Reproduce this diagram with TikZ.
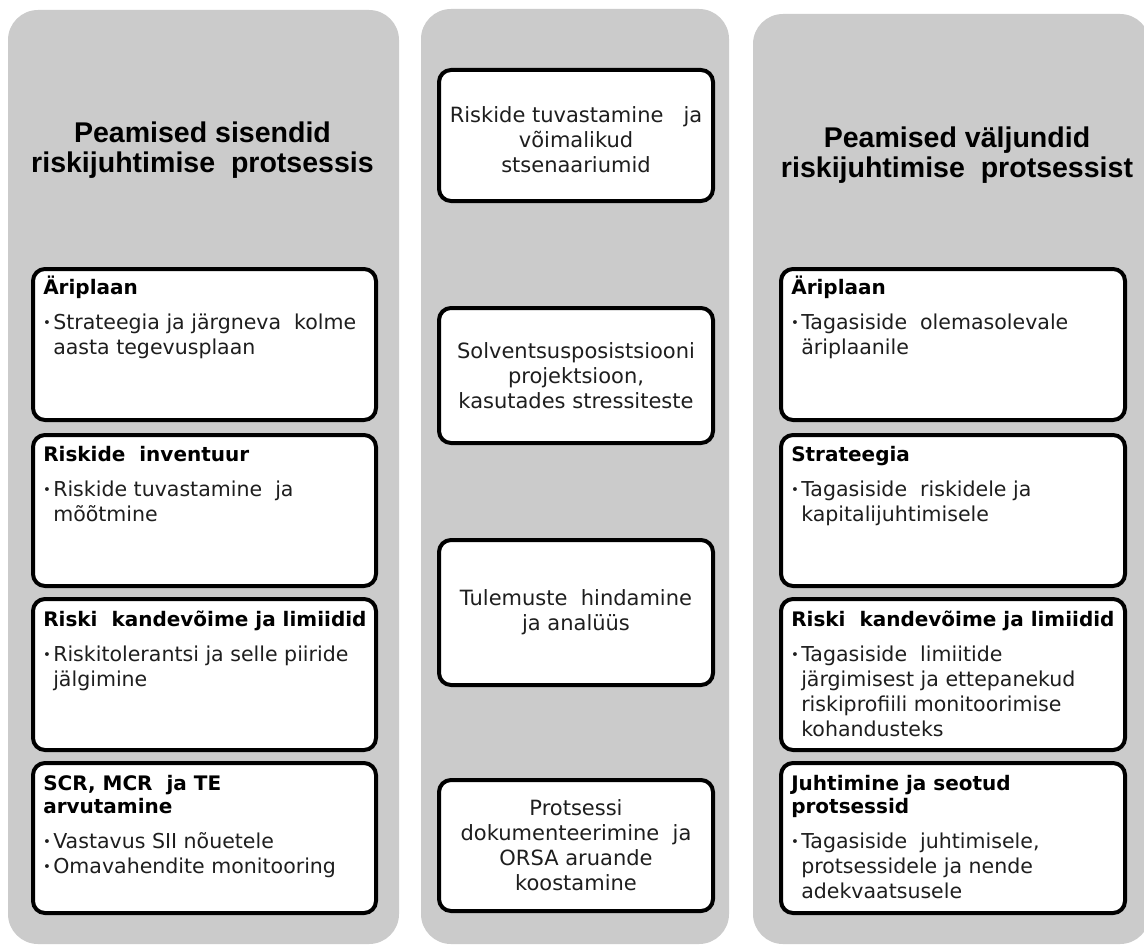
\documentclass[tikz,border=0pt]{standalone}
\usepackage{fontspec}
\setmainfont{DejaVu Sans}
\newfontfamily\titlefont{Liberation Sans}
\usetikzlibrary{fit,calc}
\definecolor{colgrey}{HTML}{CBCBCB}
\definecolor{txt}{HTML}{1E1E1E}
\newcommand\bul{\makebox[7.5pt][l]{\hspace{-0.2pt}\raisebox{1.2pt}{\fontsize{10}{10}\selectfont •}}}
\newcommand\ind{\hspace*{7.5pt}}
\tikzset{
 x=0.75pt, y=-0.75pt,
 column/.style={fill=colgrey, draw=none, rounded corners=22.5pt, inner sep=0pt},
 card/.style={draw=black, line width=3pt, rounded corners=9pt, fill=white, inner sep=0pt},
 head/.style={anchor=base west, inner sep=0pt, align=left, font=\fontsize{15}{17.25}\selectfont\bfseries, text=black},
 body/.style={anchor=base west, inner sep=0pt, align=left, font=\fontsize{15.4}{18.75}\selectfont, text=txt},
 mid/.style={inner sep=0pt, align=center, font=\fontsize{15.75}{18.75}\selectfont, text=txt},
 title/.style={anchor=base, inner sep=0pt, align=center, font=\titlefont\fontsize{21.4}{22.5}\selectfont\bfseries, text=black},
}
\begin{document}
\begin{tikzpicture}
\useasboundingbox (0,0) rectangle (1144,945);
% columns
\node[column, fit={(8,10) (399,944)}] (LC) {};
\node[column, fit={(421,9) (729,944)}] (MC) {};
\node[column, fit={(753,14) (1150,944)}] (RC) {};
% titles (anchor base = last line)
\node[title] (LT) at (202.5,172) {Peamised sisendid\\riskijuhtimise\ \ protsessis};
\node[title] (RT) at (957,177) {Peamised väljundid\\riskijuhtimise\ \ protsessist};
% left cards
\node[card, fit={(33,269) (376,420)}] (L1) {};
\node[card, fit={(33,435) (376,586)}] (L2) {};
\node[card, fit={(33,599) (376,750)}] (L3) {};
\node[card, fit={(33,763) (376,913)}] (L4) {};
% right cards
\node[card, fit={(781,269) (1125,420)}] (R1) {};
\node[card, fit={(781,435) (1125,586)}] (R2) {};
\node[card, fit={(781,599) (1125,750)}] (R3) {};
\node[card, fit={(781,763) (1125,913)}] (R4) {};
% middle cards
\node[card, fit={(439,70) (713,201)}] (M1) {};
\node[card, fit={(439,308) (713,443)}] (M2) {};
\node[card, fit={(439,540) (713,685)}] (M3) {};
\node[card, fit={(439,780) (713,911)}] (M4) {};
% left texts (base anchor = baseline of the last line)
\node[head] (L1h) at ($(L1.north west)+(12,27)$) {Äriplaan};
\node[body] (L1b) at ($(L1.north west)+(12,87)$) {\bul Strateegia ja järgneva\ \ kolme\\\ind aasta tegevusplaan};
\node[head] (L2h) at ($(L2.north west)+(12,28)$) {Riskide\ \ inventuur};
\node[body] (L2b) at ($(L2.north west)+(12,88)$) {\bul Riskide tuvastamine\ \ ja\\\ind mõõtmine};
\node[head] (L3h) at ($(L3.north west)+(12,29)$) {Riski\ \ kandevõime ja limiidid};
\node[body] (L3b) at ($(L3.north west)+(12,89)$) {\bul Riskitolerantsi ja selle piiride\\\ind jälgimine};
\node[head] (L4h) at ($(L4.north west)+(12,52)$) {SCR, MCR\ \ ja TE\\arvutamine};
\node[body] (L4b) at ($(L4.north west)+(12,112)$) {\bul Vastavus SII nõuetele\\\bul Omavahendite monitooring};
% right texts
\node[head] (R1h) at ($(R1.north west)+(12,27)$) {Äriplaan};
\node[body] (R1b) at ($(R1.north west)+(12,87)$) {\bul Tagasiside\ \ olemasolevale\\\ind äriplaanile};
\node[head] (R2h) at ($(R2.north west)+(12,28)$) {Strateegia};
\node[body] (R2b) at ($(R2.north west)+(12,88)$) {\bul Tagasiside\ \ riskidele ja\\\ind kapitalijuhtimisele};
\node[head] (R3h) at ($(R3.north west)+(12,29)$) {Riski\ \ kandevõime ja limiidid};
\node[body] (R3b) at ($(R3.north west)+(12,139)$) {\bul Tagasiside\ \ limiitide\\\ind järgimisest ja ettepanekud\\\ind riskiprofiili monitoorimise\\\ind kohandusteks};
\node[head] (R4h) at ($(R4.north west)+(12,52)$) {Juhtimine ja seotud\\protsessid};
\node[body] (R4b) at ($(R4.north west)+(12,137)$) {\bul Tagasiside\ \ juhtimisele,\\\ind protsessidele ja nende\\\ind adekvaatsusele};
% middle texts
\node[mid] (M1t) at ($(M1.center)+(0,4)$) {Riskide tuvastamine\ \ \ ja\\võimalikud\\stsenaariumid};
\node[mid] (M2t) at (M2.center) {Solventsusposistsiooni\\projektsioon,\\kasutades stressiteste};
\node[mid] (M3t) at (M3.center) {Tulemuste\ \ hindamine\\ja analüüs};
\node[mid] (M4t) at (M4.center) {Protsessi\\dokumenteerimine\ \ ja\\ORSA aruande\\koostamine};
\end{tikzpicture}
\end{document}
